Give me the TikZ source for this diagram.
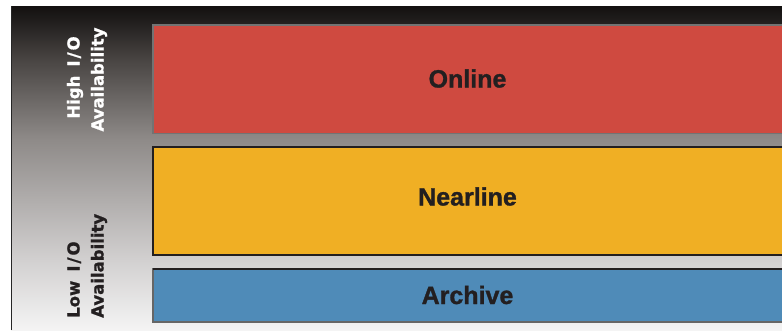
\documentclass[tikz,border=0pt]{standalone}
\usepackage{fontspec}
\setmainfont{Liberation Sans}
\newfontfamily\tierfont[FakeBold=1.2]{Liberation Sans Bold}
\newfontfamily\sidefont[FakeBold=1.0]{DejaVu Sans Bold}
\definecolor{pTop}{HTML}{131110}
\definecolor{pA}{HTML}{1f1c1b}
\definecolor{pB}{HTML}{4a4644}
\definecolor{pC}{HTML}{8e8a88}
\definecolor{pD}{HTML}{d3d1d1}
\definecolor{pBot}{HTML}{f4f4f4}
\definecolor{onlineRed}{HTML}{CF4A40}
\definecolor{nearYellow}{HTML}{F0AF24}
\definecolor{archBlue}{HTML}{4F8BB8}
\definecolor{labelDark}{HTML}{231F20}
\pgfdeclareverticalshading{panelshade}{100bp}{%
  color(0bp)=(pBot); color(25bp)=(pBot); color(35.5bp)=(pD); color(54.5bp)=(pC); color(66.5bp)=(pB); color(73bp)=(pA); color(75bp)=(pTop); color(100bp)=(pTop)}
\newcommand{\iotext}{I\kern2pt/\kern2pt O}
\tikzset{
  tier/.style={draw=#1, line width=1.2pt},
  tierlabel/.style={font=\tierfont\fontsize{25}{30}\selectfont, text=labelDark, anchor=base, inner sep=0pt},
  sidelabel/.style={font=\sidefont\fontsize{16.5}{19}\selectfont, rotate=90, inner sep=0pt},
}
\begin{document}
\begin{tikzpicture}[x=1pt,y=-1pt]
\useasboundingbox (0,0) rectangle (782,330);
\fill[white] (0,0) rectangle (782,330);
\shade[shading=panelshade] (11,6) rectangle (782,330);
\draw[line width=1.5pt, black!85] (11.5,6) -- (11.5,330);
% tiers
\filldraw[fill=onlineRed, tier=black!55] (153,25) rectangle (784,133.5);
\filldraw[fill=nearYellow, tier=labelDark] (153,147) rectangle (784,255);
\filldraw[fill=archBlue, tier=black!60] (153,269) rectangle (784,322);
\draw[line width=1.4pt, labelDark] (153,269) -- (782,269);
\node[tierlabel] (online) at (467.5,87.5) {Online};
\node[tierlabel] (nearline) at (467.5,205.5) {Nearline};
\node[tierlabel] (archive) at (467.5,304) {Archive};
% side labels
\node[sidelabel, text=white, anchor=base] (high1) at (79.5,77.5) {High\hspace{0.55em}\iotext};
\node[sidelabel, text=white, anchor=base] (high2) at (103.5,79.5) {Availability};
\node[sidelabel, text=labelDark, anchor=base west] (low1) at (79.5,318) {Low\hspace{0.55em}\iotext};
\node[sidelabel, text=labelDark, anchor=base west] (low2) at (103.5,318) {Availability};
\end{tikzpicture}
\end{document}
